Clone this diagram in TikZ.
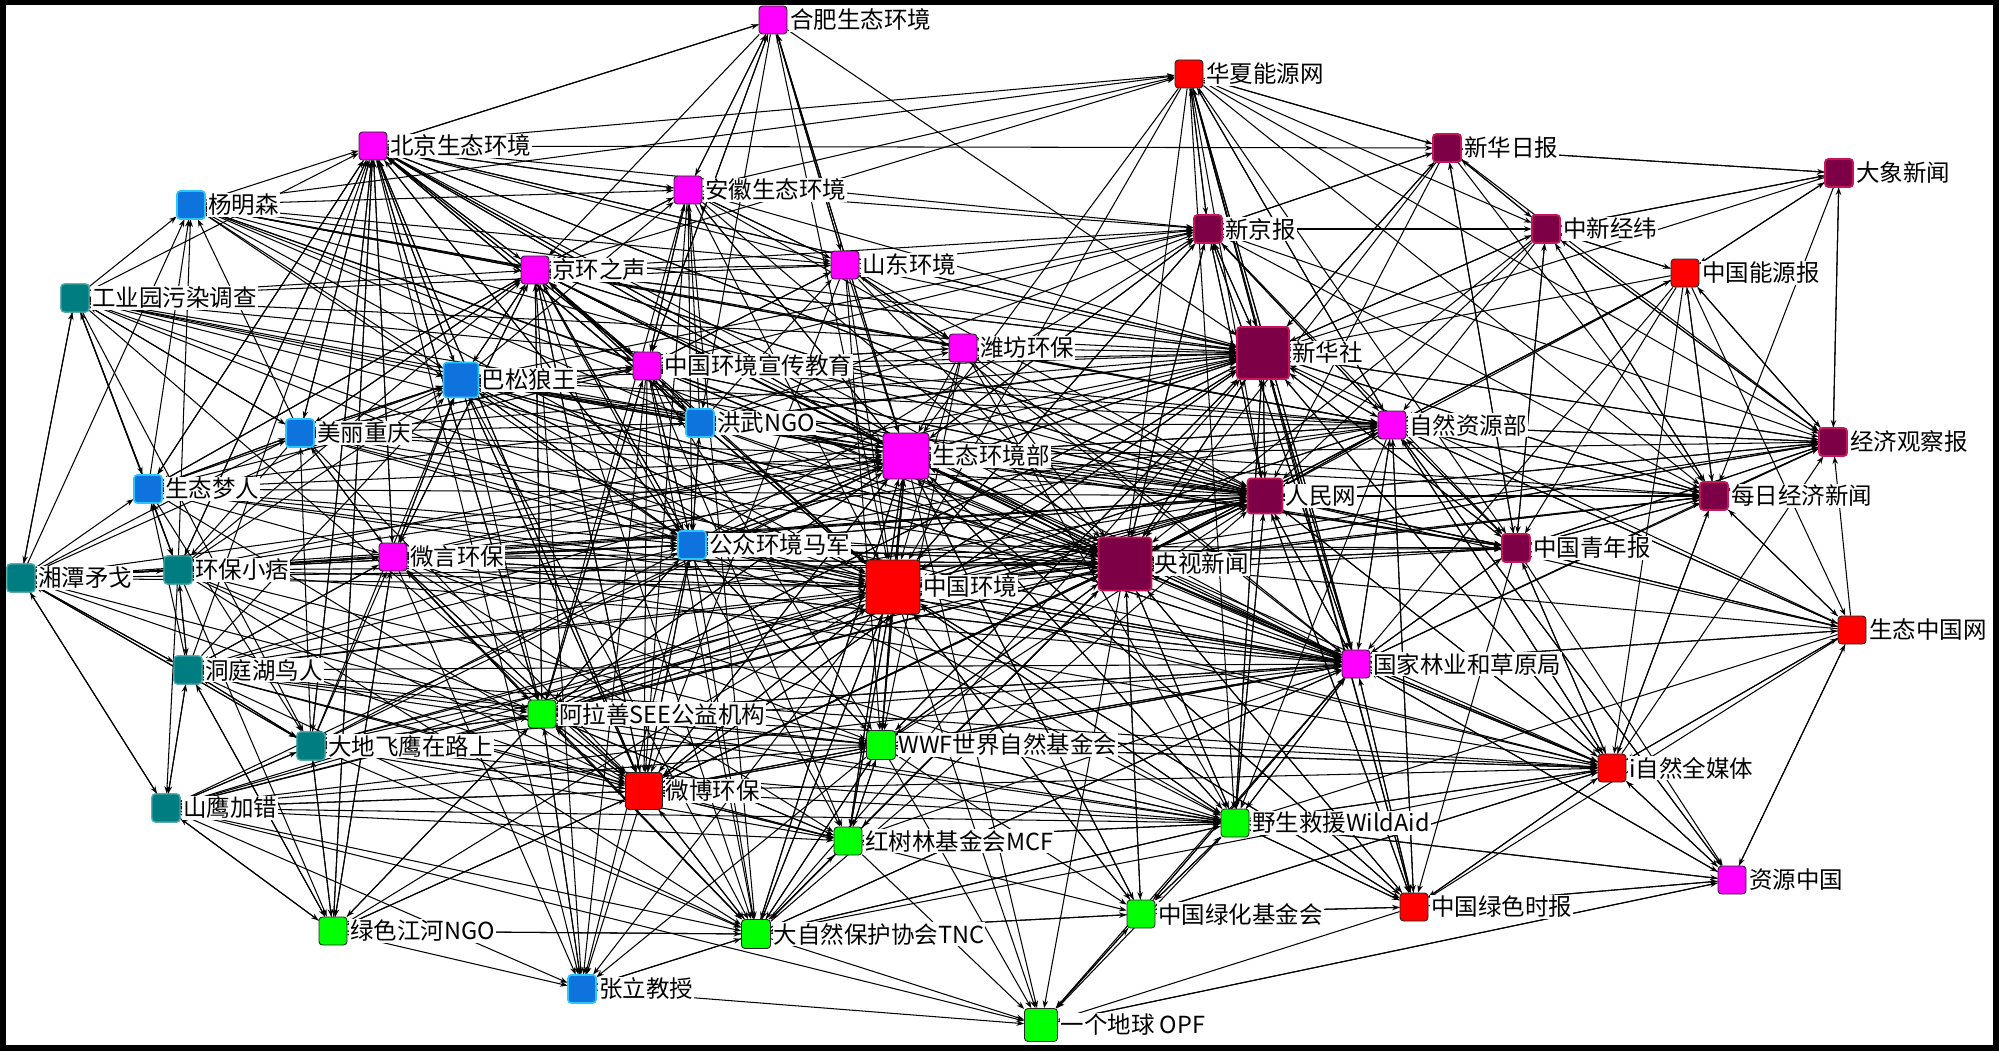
\documentclass[tikz,border=0pt]{standalone}
\usepackage{fontspec}
\setmainfont{Noto Sans CJK SC}
\usetikzlibrary{arrows.meta,calc}
\pgfdeclarelayer{back}
\pgfdeclarelayer{edges}
\pgfsetlayers{back,edges,main}
\definecolor{cmag}{RGB}{255,0,255}
\definecolor{cred}{RGB}{255,0,0}
\definecolor{cgrn}{RGB}{0,255,0}
\definecolor{cbluein}{RGB}{15,115,222}
\definecolor{cblueout}{RGB}{40,200,255}
\definecolor{ctealin}{RGB}{0,125,128}
\definecolor{ctealout}{RGB}{55,175,180}
\definecolor{cmarin}{RGB}{125,0,70}
\definecolor{cmarout}{RGB}{200,20,90}
\tikzset{
  sq/.style={draw=black!85, line width=0.9pt, rounded corners=3.5pt, inner sep=0pt, minimum size=28pt},
  mag/.style={fill=cmag},
  red/.style={fill=cred},
  grn/.style={fill=cgrn},
  blu/.style={fill=cbluein, postaction={draw=cblueout, line width=1.6pt}},
  tea/.style={fill=ctealin, postaction={draw=ctealout, line width=1.4pt}},
  mar/.style={fill=cmarin, postaction={draw=cmarout, line width=1.8pt}},
  lbl/.style={anchor=west, fill=white, inner sep=1pt, text=black, font=\fontsize{23.5}{26}\selectfont},
  lnk/.style={draw=black, line width=1.05pt, -{Stealth[length=7.5pt,width=5.5pt]}}
}
\newcommand\mknode[6]{%
  \node[sq,#2,minimum size=#3pt] (#1) at (#4,#5) {};
  \node[lbl] (#1-l) at ([xshift=1.5pt]#1.east) {#6};
}
\begin{document}
\begin{tikzpicture}[x=1pt,y=-1pt]
\useasboundingbox (0,0) rectangle (1999,1051);
\begin{pgfonlayer}{back}
  \fill[black] (0,0) rectangle (1999,1051);
  \fill[white] (6,5) rectangle (1993,1045);
\end{pgfonlayer}
% nodes
\mknode{hf}{mag}{28}{773}{20}{合肥生态环境}
\mknode{hx}{red}{28}{1189}{74}{华夏能源网}
\mknode{bj}{mag}{28}{373}{146}{北京生态环境}
\mknode{xhrb}{mar}{28}{1447}{148}{新华日报}
\mknode{dx}{mar}{28}{1839}{173}{大象新闻}
\mknode{ym}{blu}{28}{191}{205}{杨明森}
\mknode{ah}{mag}{28}{688}{190}{安徽生态环境}
\mknode{xjb}{mar}{28}{1208}{229}{新京报}
\mknode{zxjw}{mar}{28}{1546}{229}{中新经纬}
\mknode{jh}{mag}{28}{535}{270}{京环之声}
\mknode{sd}{mag}{28}{845}{265}{山东环境}
\mknode{nyb}{red}{28}{1685}{273}{中国能源报}
\mknode{gy}{tea}{28}{75}{298}{工业园污染调查}
\mknode{xhs}{mar}{52}{1263}{353}{新华社}
\mknode{wf}{mag}{28}{963}{348}{潍坊环保}
\mknode{xj}{mag}{28}{647}{366}{中国环境宣传教育}
\mknode{bs}{blu}{35}{461}{380}{巴松狼王}
\mknode{cq}{blu}{28}{300}{433}{美丽重庆}
\mknode{hw}{blu}{28}{700}{423}{洪武NGO}
\mknode{zr}{mag}{28}{1392}{425}{自然资源部}
\mknode{stb}{mag}{46}{906}{456}{生态环境部}
\mknode{jj}{mar}{28}{1833}{442}{经济观察报}
\mknode{mr}{blu}{28}{148}{489}{生态梦人}
\mknode{rmw}{mar}{35}{1265}{496}{人民网}
\mknode{mj}{mar}{28}{1714}{496}{每日经济新闻}
\mknode{wy}{mag}{28}{393}{557}{微言环保}
\mknode{gz}{blu}{28}{692}{545}{公众环境马军}
\mknode{qnb}{mar}{28}{1516}{548}{中国青年报}
\mknode{xt}{tea}{28}{21}{578}{湘潭矛戈}
\mknode{xp}{tea}{28}{178}{570}{环保小痞}
\mknode{zh}{red}{54}{893}{587}{中国环境}
\mknode{ys}{mar}{53}{1125}{564}{央视新闻}
\mknode{stzg}{red}{28}{1852}{630}{生态中国网}
\mknode{dt}{tea}{28}{188}{670}{洞庭湖鸟人}
\mknode{lc}{mag}{28}{1356}{664}{国家林业和草原局}
\mknode{als}{grn}{28}{542}{714}{阿拉善SEE公益机构}
\mknode{wwf}{grn}{29}{881}{745}{WWF世界自然基金会}
\mknode{dd}{tea}{28}{311}{746}{大地飞鹰在路上}
\mknode{iz}{red}{28}{1612}{768}{i自然全媒体}
\mknode{wb}{red}{37}{644}{791}{微博环保}
\mknode{syj}{tea}{28}{166}{808}{山鹰加错}
\mknode{ws}{grn}{28}{1235}{823}{野生救援WildAid}
\mknode{hsl}{grn}{28}{848}{841}{红树林基金会MCF}
\mknode{zy}{mag}{28}{1732}{880}{资源中国}
\mknode{lh}{grn}{28}{1141}{914}{中国绿化基金会}
\mknode{lsb}{red}{28}{1414}{907}{中国绿色时报}
\mknode{lsjh}{grn}{28}{333}{931}{绿色江河NGO}
\mknode{tnc}{grn}{29}{756}{934}{大自然保护协会TNC}
\mknode{zl}{blu}{28}{582}{989}{张立教授}
\mknode{opf}{grn}{33}{1041}{1025}{一个地球 OPF}
% connectors
\begin{pgfonlayer}{edges}
\foreach \s/\tgts in {
 hf/{bj,ah,jh,xj,hw,stb,zh,xhs,sd},
 hx/{xjb,xhs,rmw,ys,zh,stb,lc,zr,qnb,mj,jj,xhrb,zxjw,ws,lsb},
 bj/{hf,hx,ah,xhrb,jh,xj,stb,zh,ys,wy,cq,mr,bs,gz,zl,lsjh,als,wb,dd,xp,sd,xhs,rmw,lc,xjb},
 ah/{hf,hx,bj,jh,xj,sd,stb,zh,ys,wf,xjb,xhs,wb,als,tnc,gz},
 jh/{bj,ah,xj,stb,zh,ys,wy,bs,hw,gz,cq,mr,ym,wb,als,zl,tnc,hsl,xhs,rmw,lc,zr,xjb,hx},
 sd/{hf,ah,jh,xj,stb,zh,ys,wf,xhs,rmw,lc,xjb,wb,wwf},
 wf/{stb,zh,ys,xhs,rmw,sd,lc,zr,wwf,ws,xj},
 xj/{hf,ah,bj,jh,stb,zh,ys,wf,sd,gz,wb,als,wwf,hsl,tnc,zl,bs,cq,xhs,rmw,lc,zr,xjb,qnb},
 stb/{zh,ys,xhs,rmw,lc,zr,hf,bj,jh,ah,wwf,ws,hsl,tnc,lh,opf,wb,als,gz,iz,lsb,qnb,xjb,mj,jj},
 zr/{stb,zh,ys,xhs,rmw,lc,qnb,mj,jj,xjb,nyb,iz,lsb,zy,stzg,ws,hx},
 wy/{bj,jh,stb,zh,ys,bs,cq,gz,wb,als,tnc,lsjh,zl,wwf,hsl,xp,dt,xhs,rmw,lc,zr,qnb,iz,ws},
 lc/{zh,ys,stb,rmw,xhs,zr,iz,lsb,ws,lh,zy,qnb,mj,stzg,wwf,tnc,opf,hx,xjb,gz,wb,als,bs,wy},
 zy/{iz,lsb,lc,ws,opf,zr,stzg},
 xhrb/{xjb,xhs,rmw,ys,zxjw,dx,qnb,jj,mj,hx},
 dx/{xhrb,jj,zxjw,nyb,mj,xhs},
 xjb/{xhs,rmw,ys,zh,stb,zxjw,xhrb,hx,qnb,lc,zr,mj,jj},
 zxjw/{xhrb,dx,nyb,xhs,rmw,qnb,mj,jj,ys,zr},
 xhs/{ys,rmw,zh,stb,lc,zr,xjb,qnb,mj,jj,xhrb,zxjw,hx,iz,lsb,wwf,ws,bj,jh,gz,als,wb},
 rmw/{ys,xhs,zh,stb,lc,zr,qnb,mj,jj,xjb,iz,lsb,ws,bj,jh,wb,als,gz},
 ys/{zh,stb,xhs,rmw,lc,zr,qnb,mj,jj,xjb,iz,lsb,ws,wwf,lh,tnc,hsl,opf,wb,bj,jh,gz,bs,als,wy},
 qnb/{ys,xhs,rmw,lc,zr,mj,jj,zxjw,xhrb,stzg,iz,lsb,zy},
 mj/{jj,qnb,xhs,rmw,ys,zr,iz,stzg,zxjw,nyb},
 jj/{dx,mj,qnb,xhs,rmw,ys,zr,nyb,zxjw,lc},
 nyb/{dx,zxjw,xhs,rmw,ys,zr,lc,qnb,mj,jj,iz,stzg},
 zh/{ys,stb,xhs,rmw,lc,wb,wwf,tnc,hsl,als,gz,wy,bs,jh,bj,zl,opf,lh,ws,lsb,iz,zr,qnb,mj,jj,xjb},
 stzg/{lc,qnb,mj,jj,iz,zr,rmw,ys,xhs,lsb,ws,zy},
 iz/{lc,zr,ys,xhs,rmw,qnb,mj,jj,stzg,zy,lsb,ws,lh,wwf},
 wb/{zh,stb,ys,als,wwf,tnc,zl,lsjh,hsl,wy,gz,bs,jh,bj,dd,syj,rmw,xhs,lc,ws,iz},
 lsb/{lc,ws,iz,zy,ys,zh,stb,lh,zr,rmw,opf},
 ym/{bj,ah,jh,xj,stb,zh,bs,hw,gz,ys,wf,sd,xhs,rmw,zr,hx},
 gy/{ym,mr,xt,xp,bs,cq,hw,gz,jh,bj,stb,zh,wb,dd,sd,ys,xhs,rmw,zr},
 xt/{gy,mr,xp,dt,syj,dd,cq,bs,zh,stb,wy,ym,gz,ys,rmw,wb,als},
 xp/{mr,dt,syj,xt,ym,wy,bj,jh,zh,stb,gz,ys,als,lsjh,bs,rmw,xhs,lc,wwf,wb,tnc},
 mr/{ym,gy,xp,cq,bs,bj,jh,xj,wy,stb,zh,dd,gz,ys,rmw,xhs,lc,wb},
 dt/{xp,syj,dd,mr,xt,bj,wy,stb,zh,als,wb,gz,tnc,lsjh,bs,ys,rmw,lc,wwf,ws,iz,hsl},
 dd/{dt,syj,lsjh,wb,als,zh,stb,bj,wy,xt,tnc,gz,bs,cq,ys,rmw,lc,wwf,ws,hsl},
 syj/{dt,dd,lsjh,xt,zl,wb,tnc,zh,stb,ws,als,ys,lc,wwf,hsl,opf,rmw},
 cq/{bj,bs,jh,wy,zh,stb,xj,gz,hw,ys,mr,xp,ym,gy,rmw,xhs,lc,wb},
 bs/{bj,jh,ah,xj,hw,gz,zh,stb,ys,xhs,wy,cq,wb,tnc,als,rmw,lc,zr,qnb,xjb,ws},
 hw/{bj,jh,ah,xj,sd,stb,zh,gz,bs,ys,wf,zr,xhs,rmw,lc,qnb,xjb,mj},
 gz/{bj,jh,stb,zh,ys,hw,bs,wy,wb,als,tnc,wwf,xj,zl,rmw,lc,xhs,qnb,iz,ws,zr,xjb},
 als/{zh,stb,ys,wb,wwf,tnc,zl,lsjh,gz,wy,bj,jh,xj,dd,hsl,rmw,xhs,lc,ws,iz},
 wwf/{zh,stb,ys,lc,als,wb,tnc,hsl,ws,lh,opf,zl,gz,xhs,rmw,iz},
 ws/{lc,zh,stb,ys,iz,lsb,zy,lh,wwf,tnc,opf,rmw,xhs,hsl},
 hsl/{zh,stb,ys,tnc,wb,wwf,lh,opf,lc,als,ws},
 lh/{lc,ws,lsb,tnc,zh,stb,opf,iz,ys},
 lsjh/{zl,tnc,wb,dd,syj,dt,als,zh,wy,bj},
 tnc/{zh,stb,ys,wb,wwf,als,zl,opf,lh,hsl,lc,ws,lsjh,rmw,xhs,iz},
 opf/{zy,lh},
 zl/{opf,tnc,als}} {
  \foreach \t in \tgts { \draw[lnk] (\s) -- (\t); }
}
\end{pgfonlayer}
\end{tikzpicture}
\end{document}
